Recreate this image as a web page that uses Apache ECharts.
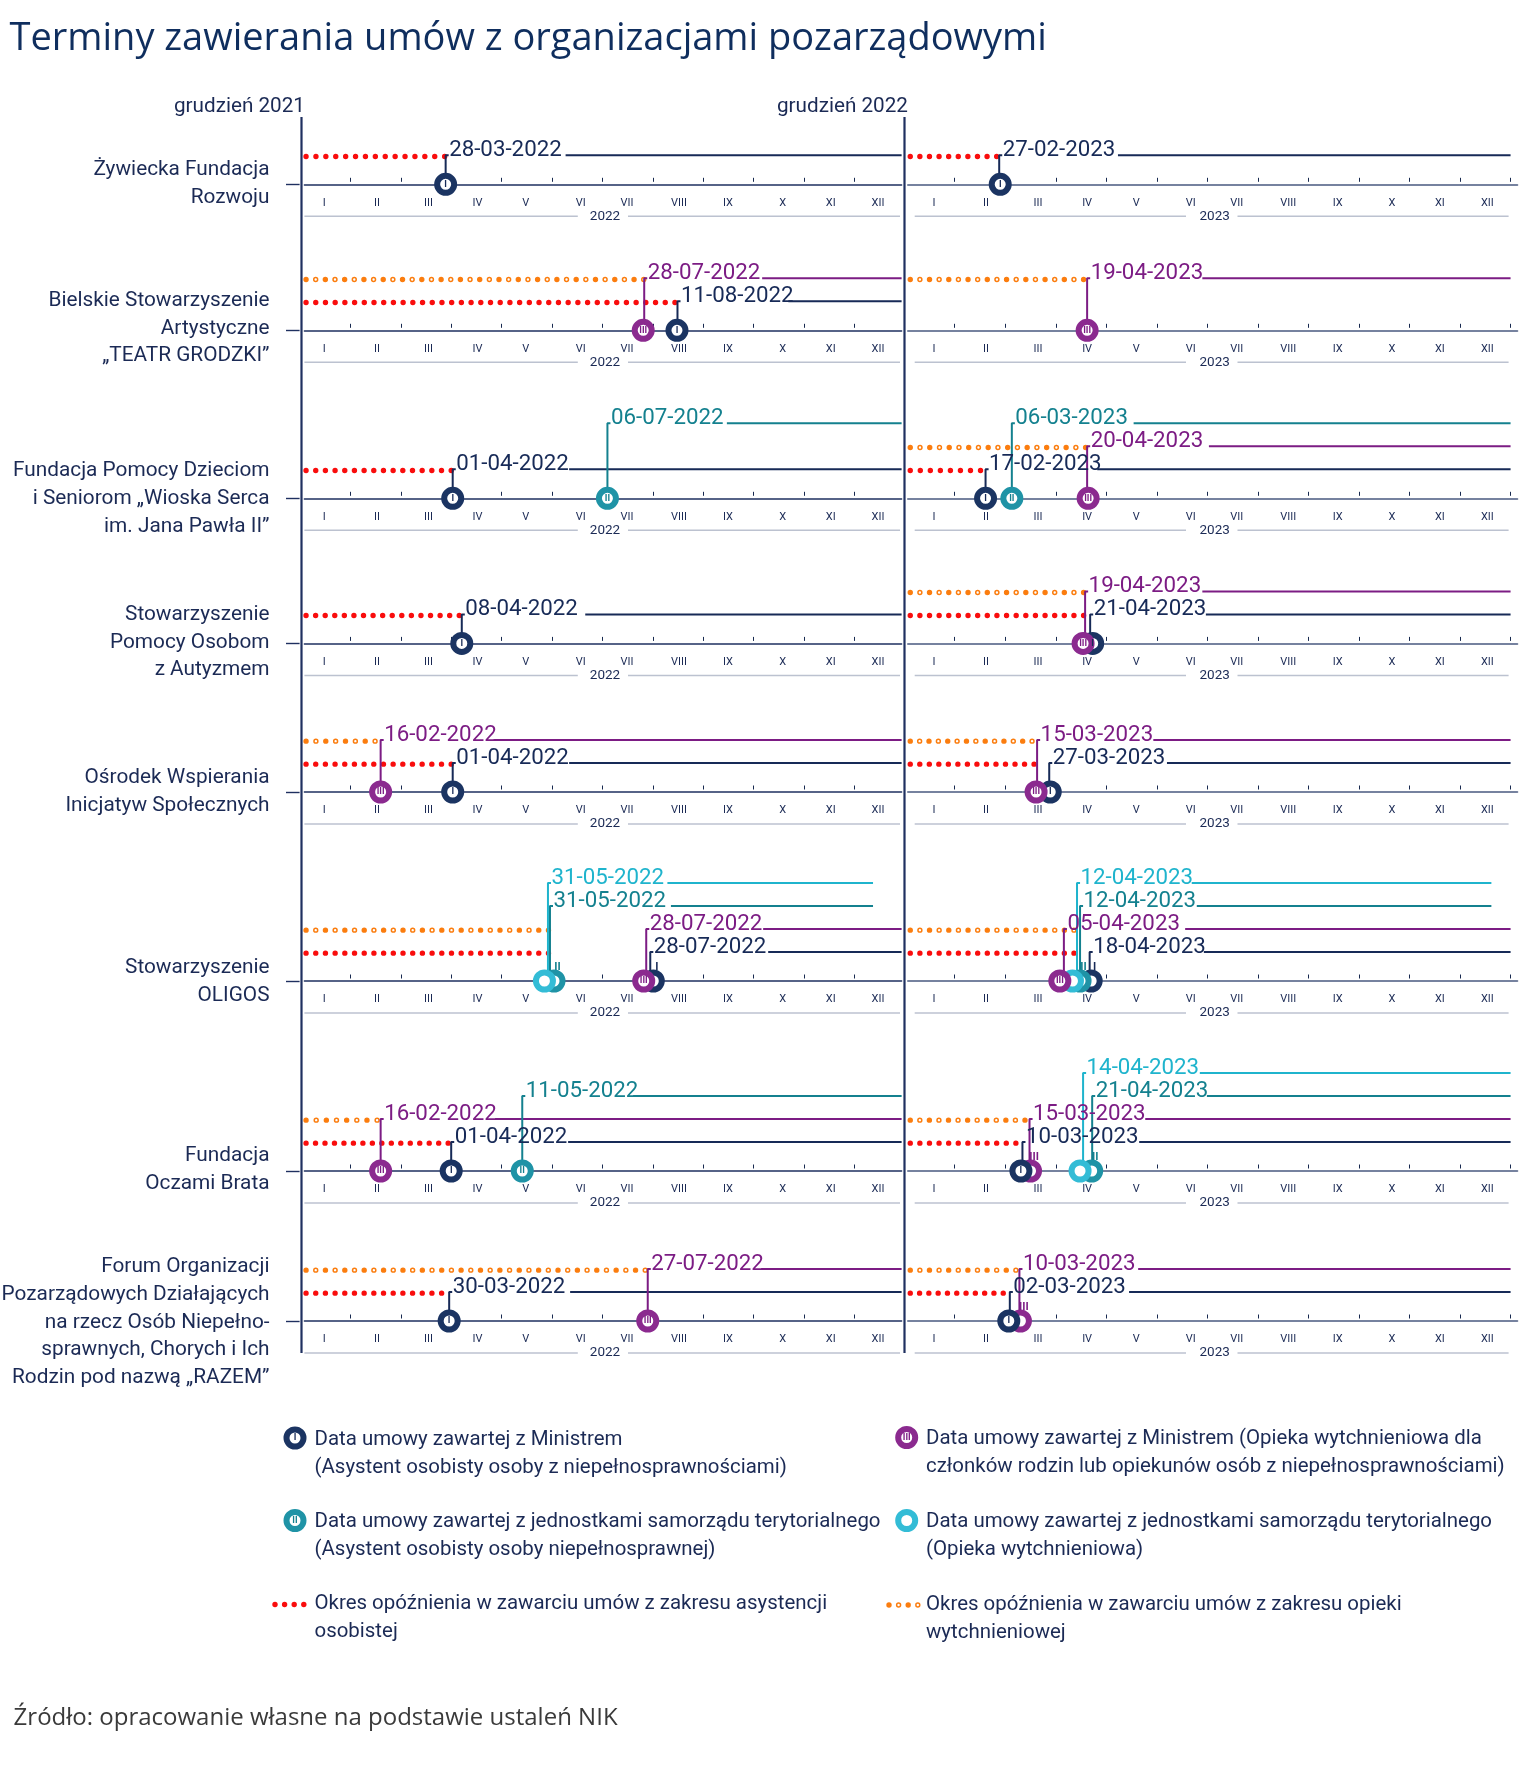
<!DOCTYPE html>
<html lang="pl"><head><meta charset="utf-8"><title>Terminy zawierania umów</title>
<style>html,body{margin:0;padding:0;background:#fff}#c{width:1520px;height:1792px}</style>
<script src="https://cdn.jsdelivr.net/npm/echarts@6/dist/echarts.min.js"></script>
</head><body><div id="c"></div>
<script>
const chartTitle = 'Terminy zawierania umów z organizacjami pozarządowymi';
const sourceNote = 'Źródło: opracowanie własne na podstawie ustaleń NIK';
const rowNames = [
 'Żywiecka Fundacja\nRozwoju',
 'Bielskie Stowarzyszenie\nArtystyczne\n„TEATR GRODZKI”',
 'Fundacja Pomocy Dzieciom\ni Seniorom „Wioska Serca\nim. Jana Pawła II”',
 'Stowarzyszenie\nPomocy Osobom\nz Autyzmem',
 'Ośrodek Wspierania\nInicjatyw Społecznych',
 'Stowarzyszenie\nOLIGOS',
 'Fundacja\nOczami Brata',
 'Forum Organizacji\nPozarządowych Działających\nna rzecz Osób Niepełno-\nsprawnych, Chorych i Ich\nRodzin pod nazwą „RAZEM”'
];
const romanMonths = ['I','II','III','IV','V','VI','VII','VIII','IX','X','XI','XII'];
const years = ['2022','2023'];
const panelHeads = ['grudzień 2021','grudzień 2022'];
const typeNumerals = ['I','II','III',''];
// event: [date, type (0 navy,1 teal,2 purple,3 light blue), level, mark position, stem position, result line start, numeral above?, result line end]
// positions are months since 1 January
const events2022 = [
 [['28-03-2022',0,1,2.89,2.89,5.27]],
 [['28-07-2022',2,2,6.81,6.83,9.17],['11-08-2022',0,1,7.48,7.49,9.69]],
 [['01-04-2022',0,1,3.03,3.03,5.34],['06-07-2022',1,3,6.10,6.10,8.47]],
 [['08-04-2022',0,1,3.21,3.21,5.66]],
 [['16-02-2022',2,2,1.60,1.60,3.84],['01-04-2022',0,1,3.03,3.03,5.34]],
 [['28-07-2022',0,1,7.01,6.95,9.29,true],['31-05-2022',1,3,5.04,4.96,7.36,true,11.37],['31-05-2022',3,4,4.85,4.92,7.29,false,11.37],['28-07-2022',2,2,6.82,6.87,9.19]],
 [['16-02-2022',2,2,1.60,1.60,3.87],['01-04-2022',0,1,3.00,3.00,5.32],['11-05-2022',1,3,4.41,4.41,6.61]],
 [['30-03-2022',0,1,2.96,2.96,5.36],['27-07-2022',2,2,6.90,6.90,9.15]]
];
const events2023 = [
 [['27-02-2023',0,1,1.90,1.88,4.23]],
 [['19-04-2023',2,2,3.62,3.62,5.90]],
 [['17-02-2023',0,1,1.61,1.61,3.82],['06-03-2023',1,3,2.13,2.13,4.54],['20-04-2023',2,2,3.64,3.62,6.03]],
 [['21-04-2023',0,1,3.73,3.68,5.97],['19-04-2023',2,2,3.54,3.58,5.90]],
 [['27-03-2023',0,1,2.89,2.87,5.20],['15-03-2023',2,2,2.61,2.63,4.93]],
 [['18-04-2023',0,1,3.70,3.67,5.93,true],['12-04-2023',1,3,3.48,3.48,5.79,true,11.62],['12-04-2023',3,4,3.33,3.42,5.69,false,11.62],['05-04-2023',2,2,3.08,3.16,5.56]],
 [['15-03-2023',2,2,2.50,2.48,4.77,true],['10-03-2023',0,1,2.31,2.34,4.65],['21-04-2023',1,3,3.71,3.72,5.99,true],['14-04-2023',3,4,3.48,3.54,5.85]],
 [['10-03-2023',2,2,2.30,2.28,4.63,true],['02-03-2023',0,1,2.07,2.09,4.45]]
];
const redEnds2022 = [2.87,7.44,3.00,3.16,3.00,4.93,2.94,2.81];
const orangeEnds2022 = [null,6.82,null,null,1.49,4.93,1.53,6.85];
const redEnds2023 = [1.83,null,1.51,3.55,2.57,3.36,2.21,1.96];
const orangeEnds2023 = [null,3.55,3.59,3.55,2.53,3.36,2.39,2.21];
const monthLabelPos2022 = [0.48,1.53,2.55,3.52,4.48,5.57,6.49,7.52,8.49,9.58,10.53,11.47];
const monthLabelPos2023 = [0.59,1.62,2.65,3.62,4.59,5.67,6.58,7.60,8.58,9.65,10.60,11.54];
const legendItems = [
 {kind:'mark',type:0,text:'Data umowy zawartej z Ministrem\n(Asystent osobisty osoby z niepełnosprawnościami)',ix:295,tx:314.5,y:1438},
 {kind:'mark',type:2,text:'Data umowy zawartej z Ministrem (Opieka wytchnieniowa dla\nczłonków rodzin lub opiekunów osób z niepełnosprawnościami)',ix:906.7,tx:926,y:1437.5},
 {kind:'mark',type:1,text:'Data umowy zawartej z jednostkami samorządu terytorialnego\n(Asystent osobisty osoby niepełnosprawnej)',ix:295,tx:314.5,y:1520.5},
 {kind:'mark',type:3,text:'Data umowy zawartej z jednostkami samorządu terytorialnego\n(Opieka wytchnieniowa)',ix:906.7,tx:926,y:1520.5},
 {kind:'red',text:'Okres opóźnienia w zawarciu umów z zakresu asystencji\nosobistej',ix:271,tx:314.5,y:1602.5},
 {kind:'orange',text:'Okres opóźnienia w zawarciu umów z zakresu opieki\nwytchnieniowej',ix:885,tx:926,y:1603}
];

// ---- style / layout ----
const NAVY='#17294f', AXISL='#1f3060', AXISR='#4a5a80', TEXT='#1b2a55', RED='#f90d0d', ORANGE='#fb7d0f', RULE='#bcc2d0';
const FONT='Roboto', TXT='20.8px '+FONT, LEG='20.45px '+FONT;
const markColors=['#1b3462','#1f93a6','#8b2a8f','#33bcd6'];
const lineColors=['#172a57','#14818f','#7c1c84','#1fb4cd'];
const typeNames=['Umowa z Ministrem (asystent)','Umowa z JST (asystent)','Umowa z Ministrem (opieka)','Umowa z JST (opieka)'];
const rowAxisY=[184.3,330.3,498.3,643.4,792,981,1171,1321];
const rowLabelY=[183.5,328.5,499,642.5,791.5,982,1169.5,1322.5];
const LH=27.8, LEVEL=23, BASE=6, YMAX=4, YMIN=-BASE/LEVEL, DROP=0.05;
const HOOK=0.06, DOT_START=0.12, DOT=9.6;
const panels=[
 {left:304.4,width:597.2,min:0.0873,max:11.937,lineEnd:11.937,ticks:[1,2,3,4,5,6,7,8,9,10,11],lab:monthLabelPos2022,ev:events2022,red:redEnds2022,or:orangeEnds2022,axis:AXISL,rule:[[304.4,577.8],[628,900]],year:years[0]},
 {left:907.8,width:609.7,min:0.0712,max:12.137,lineEnd:12,ticks:[1,2,3,4,5,6,7,8,9,10,11,12],lab:monthLabelPos2023,ev:events2023,red:redEnds2023,or:orangeEnds2023,axis:AXISR,rule:[[914.7,1186],[1237.5,1508.6]],year:years[1]}
];

const grid=[],xAxis=[],yAxis=[],series=[],graphic=[];
rowNames.forEach((name,r)=>{
 panels.forEach((p,pi)=>{
  const g=grid.length;
  const pxPerMonth=p.width/(p.max-p.min);
  const pitch=(end)=>{const len=(end-DOT_START)*pxPerMonth;return len/Math.max(1,Math.round(len/DOT));};
  grid.push({left:p.left,width:p.width,top:rowAxisY[r]-(BASE+YMAX*LEVEL),height:BASE+YMAX*LEVEL,containLabel:false});
  const xa=xAxis.length;
  xAxis.push({type:'value',gridIndex:g,position:'bottom',min:p.min,max:p.max,
    name:p.year,nameLocation:'middle',nameGap:28.5,nameTextStyle:{color:TEXT,fontFamily:FONT,fontSize:13.5,verticalAlign:'middle',padding:[0,0,0,4]},
    axisLine:{show:true,onZero:false,lineStyle:{color:p.axis,width:1.6}},
    axisTick:{show:false},splitLine:{show:false},
    axisLabel:{show:true,margin:13,color:TEXT,fontFamily:FONT,fontSize:11,customValues:p.lab,hideOverlap:false,
      formatter:(v)=>romanMonths[p.lab.indexOf(v)]||''}});
  xAxis.push({type:'value',gridIndex:g,position:'bottom',offset:-2.5,min:p.min,max:p.max,
    axisLine:{show:false,onZero:false},splitLine:{show:false},axisLabel:{show:false},
    axisTick:{show:true,inside:true,length:4,customValues:p.ticks,lineStyle:{color:NAVY,width:1}}});
  yAxis.push({type:'value',gridIndex:g,min:YMIN,max:YMAX,axisLine:{show:false},splitLine:{show:false},axisLabel:{show:false},
    offset:4.8,
    axisTick:{show:pi===0,length:13.6,customValues:[YMIN],lineStyle:{color:AXISL,width:1.4}}});
  // delay dots
  const base={type:'line',xAxisIndex:xa,yAxisIndex:g,symbol:'none',clip:false,silent:true,animation:false};
  if(p.red[r]!=null) series.push({...base,name:'Okres opóźnienia (asystencja)',z:2,data:[[DOT_START,1-DROP],[p.red[r]+0.01,1-DROP]],
     lineStyle:{color:RED,width:5.4,cap:'round',type:[0,pitch(p.red[r])]}});
  if(p.or[r]!=null){
    const q=pitch(p.or[r]);
    series.push({...base,name:'Okres opóźnienia (opieka)',z:2,data:[[DOT_START,2-DROP],[p.or[r]+0.01,2-DROP]],lineStyle:{color:ORANGE,width:5.4,cap:'round',type:[0,q]}});
    series.push({...base,name:'Okres opóźnienia (opieka) – środek',z:2,data:[[DOT_START,2-DROP],[p.or[r]+0.01,2-DROP]],lineStyle:{color:'#fff',width:2.4,cap:'round',type:[0,q*2],dashOffset:-q}});
  }
  const ev=p.ev[r];
  // stems + result lines
  ev.forEach(e=>{
    const [d,t,l,m,s,st,sup,end]=e;
    series.push({...base,name:typeNames[t],z:3,connectNulls:false,
      lineStyle:{color:lineColors[t],width:2},
      data:[[s,YMIN],[s,l],[s+HOOK,l],['-','-'],[st,l],[end||p.lineEnd,l]]});
  });
  // date labels
  ev.forEach(e=>{
    series.push({type:'scatter',name:'Data '+e[0],xAxisIndex:xa,yAxisIndex:g,clip:false,silent:true,animation:false,z:4,symbolSize:1,
      itemStyle:{color:lineColors[e[1]]},
      data:[{value:[e[4],e[2]],label:{show:true,formatter:e[0],color:lineColors[e[1]],opacity:1,fontFamily:FONT,fontSize:22.3,position:[4,6.5],align:'left',verticalAlign:'bottom'}}]});
  });
  // contract marks, in drawing order
  series.push({type:'scatter',name:'Umowy',xAxisIndex:xa,yAxisIndex:g,clip:false,silent:true,animation:false,z:5,symbolSize:17,
    data:ev.map(e=>{
      const [d,t,l,m,s,st,sup]=e;
      return {value:[m,YMIN],itemStyle:{color:'#fff',borderColor:markColors[t],borderWidth:6,opacity:1},
        label:sup?{show:typeNumerals[t]!=='',formatter:typeNumerals[t],color:lineColors[t],fontFamily:FONT,fontSize:11,fontWeight:'bold',align:'center',verticalAlign:'middle',position:[15,-2]}
                 :{show:typeNumerals[t]!=='',formatter:typeNumerals[t],color:lineColors[t],fontFamily:FONT,fontSize:9,fontWeight:'bold',position:'inside'}};
    })});
  // grey year rule
  p.rule.forEach(seg=>graphic.push({type:'line',silent:true,shape:{x1:seg[0],y1:rowAxisY[r]+32,x2:seg[1],y2:rowAxisY[r]+32},style:{stroke:RULE,lineWidth:1.5}}));
 });
 graphic.push({type:'text',silent:true,style:{text:name,x:269.5,y:rowLabelY[r],align:'right',verticalAlign:'middle',fill:TEXT,font:TXT,lineHeight:LH}});
});
// vertical panel rules + heads
[301.5,904.5].forEach((x,i)=>{
  graphic.push({type:'line',silent:true,shape:{x1:x,y1:117,x2:x,y2:1353},style:{stroke:AXISL,lineWidth:2.2}});
  graphic.push({type:'text',silent:true,style:{text:panelHeads[i],x:x+3.5,y:107,align:'right',verticalAlign:'middle',fill:TEXT,font:'20.7px '+FONT}});
});
// legend
legendItems.forEach(it=>{
  graphic.push({type:'text',silent:true,style:{text:it.text,x:it.tx,y:it.y-12.2,align:'left',verticalAlign:'top',fill:TEXT,font:LEG,lineHeight:LH}});
  if(it.kind==='mark'){
    graphic.push({type:'circle',silent:true,shape:{cx:it.ix,cy:it.y,r:8.5},style:{fill:'#fff',stroke:markColors[it.type],lineWidth:6}});
    if(typeNumerals[it.type]) graphic.push({type:'text',silent:true,style:{text:typeNumerals[it.type],x:it.ix,y:it.y,align:'center',verticalAlign:'middle',fill:lineColors[it.type],font:'bold 9px '+FONT}});
  } else {
    [0,1,2,3].forEach(i=>{
      const cx=it.ix+4+i*9.6, cy=it.y+2;
      graphic.push({type:'circle',silent:true,shape:{cx,cy,r:2.7},style:{fill:it.kind==='red'?RED:ORANGE}});
      if(it.kind==='orange'&&i%2===1) graphic.push({type:'circle',silent:true,shape:{cx,cy,r:1.2},style:{fill:'#fff'}});
    });
  }
});

const chart=echarts.init(document.getElementById('c'));
chart.setOption({animation:false,backgroundColor:'#fff',
  title:[
   {text:chartTitle,left:4.5,top:15,textStyle:{fontFamily:'Open Sans',fontSize:38,fontWeight:'normal',color:'#0f2e5e'}},
   {text:sourceNote,left:8.6,top:1701,textStyle:{fontFamily:'Open Sans',fontSize:24,fontWeight:'normal',color:'#3a3a3a'}}
  ],
  grid,xAxis,yAxis,series,graphic:{elements:graphic}});
</script></body></html>
